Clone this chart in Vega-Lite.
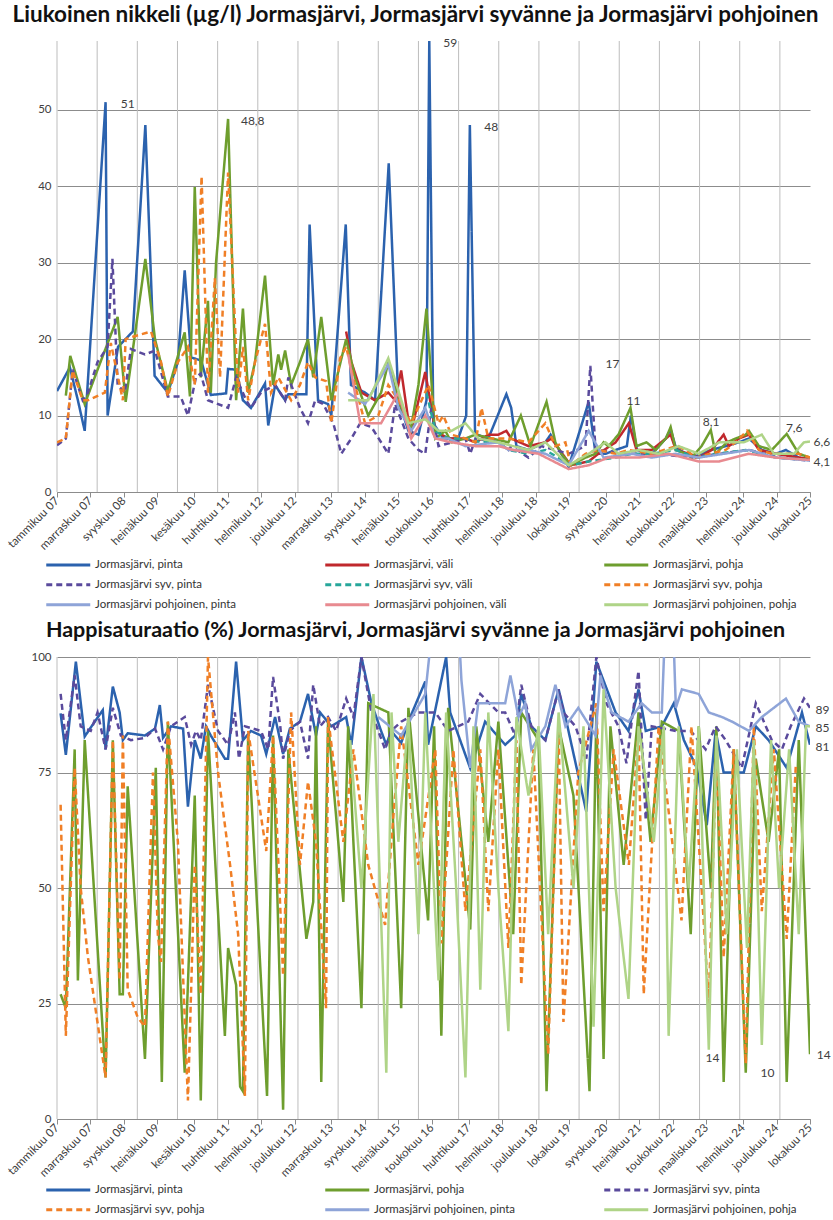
{
"$schema": "https://vega.github.io/schema/vega-lite/v6.json",
"background": "white",
"autosize": {"type": "pad"},
"padding": {"left": 5, "top": 4, "right": 0, "bottom": 4},
"config": {
  "font": "Lato",
  "view": {"stroke": null},
  "title": {"font": "Lato", "fontSize": 22.5, "fontWeight": "bold", "color": "#111111"},
  "axis": {"labelFont": "Lato", "labelFontSize": 11.5, "labelColor": "#404040"},
  "legend": {"labelFont": "Lato", "labelFontSize": 11.5, "labelColor": "#333333"}
},
"datasets": {
  "names": [
    {"s": "a", "n": "Jormasjärvi, pinta"},
    {"s": "b", "n": "Jormasjärvi, väli"},
    {"s": "c", "n": "Jormasjärvi, pohja"},
    {"s": "d", "n": "Jormasjärvi syv, pinta"},
    {"s": "e", "n": "Jormasjärvi syv, väli"},
    {"s": "f", "n": "Jormasjärvi syv, pohja"},
    {"s": "g", "n": "Jormasjärvi pohjoinen, pinta"},
    {"s": "h", "n": "Jormasjärvi pohjoinen, väli"},
    {"s": "i", "n": "Jormasjärvi pohjoinen, pohja"}
  ],
  "years": [{"x":2007},{"x":2008},{"x":2009},{"x":2010},{"x":2011},{"x":2012},{"x":2013},{"x":2014},{"x":2015},{"x":2016},{"x":2017},{"x":2018},{"x":2019},{"x":2020},{"x":2021},{"x":2022},{"x":2023},{"x":2024},{"x":2025}],
  "ni": [
{"s":"a","x":2007.00,"v":13.2},{"s":"a","x":2007.32,"v":16.3},{"s":"a","x":2007.52,"v":12},{"s":"a","x":2007.69,"v":8},{"s":"a","x":2008.21,"v":51},{"s":"a","x":2008.26,"v":10},{"s":"a","x":2008.52,"v":19},{"s":"a","x":2008.89,"v":21},{"s":"a","x":2009.20,"v":48},{"s":"a","x":2009.43,"v":15.2},{"s":"a","x":2009.76,"v":13},{"s":"a","x":2010.01,"v":17},{"s":"a","x":2010.18,"v":29},{"s":"a","x":2010.34,"v":17.6},{"s":"a","x":2010.59,"v":17.2},{"s":"a","x":2010.83,"v":12.7},{"s":"a","x":2011.21,"v":12.9},{"s":"a","x":2011.26,"v":16.1},{"s":"a","x":2011.46,"v":16},{"s":"a","x":2011.63,"v":12},{"s":"a","x":2011.83,"v":11},{"s":"a","x":2012.18,"v":14.2},{"s":"a","x":2012.26,"v":8.7},{"s":"a","x":2012.43,"v":14},{"s":"a","x":2012.68,"v":12},{"s":"a","x":2012.76,"v":12.8},{"s":"a","x":2013.21,"v":12.8},{"s":"a","x":2013.29,"v":35},{"s":"a","x":2013.50,"v":12},{"s":"a","x":2013.75,"v":11.5},{"s":"a","x":2013.83,"v":10},{"s":"a","x":2014.19,"v":35},{"s":"a","x":2014.32,"v":14},{"s":"a","x":2014.67,"v":13},{"s":"a","x":2014.92,"v":12},{"s":"a","x":2015.26,"v":43},{"s":"a","x":2015.50,"v":12},{"s":"a","x":2015.75,"v":8},{"s":"a","x":2016.00,"v":7.5},{"s":"a","x":2016.20,"v":12},{"s":"a","x":2016.27,"v":59},{"s":"a","x":2016.37,"v":9},{"s":"a","x":2016.62,"v":7},{"s":"a","x":2016.99,"v":7},{"s":"a","x":2017.19,"v":10},{"s":"a","x":2017.28,"v":48},{"s":"a","x":2017.41,"v":7.6},{"s":"a","x":2017.74,"v":7},{"s":"a","x":2018.19,"v":12.8},{"s":"a","x":2018.31,"v":11},{"s":"a","x":2018.44,"v":6},{"s":"a","x":2018.74,"v":5.5},{"s":"a","x":2019.16,"v":6.5},{"s":"a","x":2019.29,"v":7.5},{"s":"a","x":2019.74,"v":3.3},{"s":"a","x":2020.24,"v":11.8},{"s":"a","x":2020.41,"v":5},{"s":"a","x":2020.66,"v":5},{"s":"a","x":2020.91,"v":5.5},{"s":"a","x":2021.19,"v":6},{"s":"a","x":2021.29,"v":10},{"s":"a","x":2021.44,"v":5.5},{"s":"a","x":2021.81,"v":5},{"s":"a","x":2022.16,"v":7},{"s":"a","x":2022.28,"v":8.2},{"s":"a","x":2022.41,"v":5.8},{"s":"a","x":2022.66,"v":5},{"s":"a","x":2022.81,"v":4.5},{"s":"a","x":2023.28,"v":5.5},{"s":"a","x":2023.65,"v":6},{"s":"a","x":2023.98,"v":6.5},{"s":"a","x":2024.23,"v":7},{"s":"a","x":2024.55,"v":5.5},{"s":"a","x":2024.90,"v":5},{"s":"a","x":2025.15,"v":5.5},{"s":"a","x":2025.47,"v":4.5},{"s":"a","x":2025.75,"v":4.3},
{"s":"b","x":2014.20,"v":21},{"s":"b","x":2014.33,"v":17},{"s":"b","x":2014.58,"v":13},{"s":"b","x":2014.92,"v":12},{"s":"b","x":2015.25,"v":13},{"s":"b","x":2015.42,"v":12},{"s":"b","x":2015.57,"v":15.9},{"s":"b","x":2015.80,"v":7.5},{"s":"b","x":2016.17,"v":15.7},{"s":"b","x":2016.42,"v":8},{"s":"b","x":2016.74,"v":7},{"s":"b","x":2017.17,"v":7},{"s":"b","x":2017.42,"v":6.5},{"s":"b","x":2017.74,"v":7.5},{"s":"b","x":2017.99,"v":7.5},{"s":"b","x":2018.19,"v":8},{"s":"b","x":2018.31,"v":7},{"s":"b","x":2018.74,"v":6},{"s":"b","x":2019.16,"v":6.5},{"s":"b","x":2019.31,"v":7},{"s":"b","x":2019.79,"v":3.5},{"s":"b","x":2020.24,"v":4},{"s":"b","x":2020.48,"v":5},{"s":"b","x":2020.91,"v":6.5},{"s":"b","x":2021.24,"v":9},{"s":"b","x":2021.43,"v":5.5},{"s":"b","x":2021.81,"v":5.5},{"s":"b","x":2022.16,"v":7},{"s":"b","x":2022.28,"v":7.5},{"s":"b","x":2022.41,"v":5.5},{"s":"b","x":2022.73,"v":5},{"s":"b","x":2022.98,"v":4.5},{"s":"b","x":2023.30,"v":5.5},{"s":"b","x":2023.60,"v":7.5},{"s":"b","x":2023.73,"v":6},{"s":"b","x":2023.98,"v":7},{"s":"b","x":2024.23,"v":7.5},{"s":"b","x":2024.48,"v":5.5},{"s":"b","x":2024.90,"v":5},{"s":"b","x":2025.47,"v":4.5},{"s":"b","x":2025.75,"v":4.3},
{"s":"c","x":2007.22,"v":12.6},{"s":"c","x":2007.33,"v":17.8},{"s":"c","x":2007.69,"v":11.5},{"s":"c","x":2008.01,"v":16},{"s":"c","x":2008.51,"v":22.9},{"s":"c","x":2008.71,"v":11.8},{"s":"c","x":2009.20,"v":30.5},{"s":"c","x":2009.44,"v":20},{"s":"c","x":2009.76,"v":13.2},{"s":"c","x":2010.18,"v":20.9},{"s":"c","x":2010.31,"v":12.5},{"s":"c","x":2010.43,"v":39.9},{"s":"c","x":2010.58,"v":15},{"s":"c","x":2010.76,"v":25},{"s":"c","x":2010.83,"v":13},{"s":"c","x":2010.96,"v":30},{"s":"c","x":2011.26,"v":48.8},{"s":"c","x":2011.46,"v":12},{"s":"c","x":2011.63,"v":24},{"s":"c","x":2011.76,"v":13},{"s":"c","x":2011.93,"v":17},{"s":"c","x":2012.18,"v":28.3},{"s":"c","x":2012.38,"v":14},{"s":"c","x":2012.51,"v":18},{"s":"c","x":2012.58,"v":16},{"s":"c","x":2012.68,"v":18.5},{"s":"c","x":2012.83,"v":14},{"s":"c","x":2013.05,"v":17},{"s":"c","x":2013.25,"v":20},{"s":"c","x":2013.38,"v":15},{"s":"c","x":2013.58,"v":22.9},{"s":"c","x":2013.83,"v":12},{"s":"c","x":2014.20,"v":20},{"s":"c","x":2014.42,"v":15},{"s":"c","x":2014.55,"v":13},{"s":"c","x":2014.75,"v":10},{"s":"c","x":2015.07,"v":13},{"s":"c","x":2015.25,"v":17},{"s":"c","x":2015.50,"v":12},{"s":"c","x":2015.80,"v":8},{"s":"c","x":2016.00,"v":14},{"s":"c","x":2016.20,"v":24},{"s":"c","x":2016.42,"v":7},{"s":"c","x":2016.67,"v":8},{"s":"c","x":2016.82,"v":6.5},{"s":"c","x":2017.17,"v":7},{"s":"c","x":2017.42,"v":7.5},{"s":"c","x":2017.82,"v":7},{"s":"c","x":2018.24,"v":6.5},{"s":"c","x":2018.55,"v":10},{"s":"c","x":2018.79,"v":6},{"s":"c","x":2019.19,"v":11.8},{"s":"c","x":2019.41,"v":6.5},{"s":"c","x":2019.56,"v":5},{"s":"c","x":2019.79,"v":3.5},{"s":"c","x":2020.16,"v":4.5},{"s":"c","x":2020.41,"v":5},{"s":"c","x":2020.61,"v":6.5},{"s":"c","x":2020.73,"v":6},{"s":"c","x":2020.98,"v":7.5},{"s":"c","x":2021.28,"v":11},{"s":"c","x":2021.43,"v":6},{"s":"c","x":2021.68,"v":6.5},{"s":"c","x":2021.91,"v":5.5},{"s":"c","x":2022.16,"v":7},{"s":"c","x":2022.28,"v":8.5},{"s":"c","x":2022.41,"v":5.5},{"s":"c","x":2022.66,"v":5},{"s":"c","x":2022.80,"v":4.5},{"s":"c","x":2023.05,"v":6},{"s":"c","x":2023.28,"v":8.1},{"s":"c","x":2023.40,"v":5},{"s":"c","x":2023.68,"v":6.5},{"s":"c","x":2023.90,"v":7},{"s":"c","x":2024.15,"v":7.5},{"s":"c","x":2024.23,"v":8},{"s":"c","x":2024.48,"v":6},{"s":"c","x":2024.80,"v":5.5},{"s":"c","x":2025.17,"v":7.6},{"s":"c","x":2025.47,"v":5},{"s":"c","x":2025.75,"v":4.5},
{"s":"d","x":2007.00,"v":6.1},{"s":"d","x":2007.22,"v":7},{"s":"d","x":2007.39,"v":16},{"s":"d","x":2007.64,"v":12},{"s":"d","x":2007.77,"v":13},{"s":"d","x":2008.01,"v":17},{"s":"d","x":2008.26,"v":19},{"s":"d","x":2008.38,"v":30.5},{"s":"d","x":2008.51,"v":14},{"s":"d","x":2008.69,"v":13},{"s":"d","x":2008.84,"v":18.7},{"s":"d","x":2009.19,"v":18},{"s":"d","x":2009.44,"v":18.5},{"s":"d","x":2009.76,"v":12.5},{"s":"d","x":2010.08,"v":12.5},{"s":"d","x":2010.26,"v":10},{"s":"d","x":2010.46,"v":15},{"s":"d","x":2010.58,"v":15.5},{"s":"d","x":2010.76,"v":12},{"s":"d","x":2011.26,"v":11},{"s":"d","x":2011.46,"v":15},{"s":"d","x":2011.71,"v":12},{"s":"d","x":2011.83,"v":11},{"s":"d","x":2012.08,"v":13},{"s":"d","x":2012.43,"v":14},{"s":"d","x":2012.68,"v":12},{"s":"d","x":2012.76,"v":15},{"s":"d","x":2013.05,"v":11},{"s":"d","x":2013.25,"v":9},{"s":"d","x":2013.43,"v":12},{"s":"d","x":2013.63,"v":11.5},{"s":"d","x":2013.88,"v":9},{"s":"d","x":2014.08,"v":5},{"s":"d","x":2014.20,"v":6},{"s":"d","x":2014.33,"v":7},{"s":"d","x":2014.55,"v":9},{"s":"d","x":2014.83,"v":8.5},{"s":"d","x":2015.25,"v":5},{"s":"d","x":2015.42,"v":11.5},{"s":"d","x":2015.75,"v":7},{"s":"d","x":2016.00,"v":5.5},{"s":"d","x":2016.17,"v":5},{"s":"d","x":2016.32,"v":11},{"s":"d","x":2016.50,"v":6},{"s":"d","x":2017.17,"v":7},{"s":"d","x":2017.29,"v":5},{"s":"d","x":2017.42,"v":7},{"s":"d","x":2017.99,"v":6.5},{"s":"d","x":2018.24,"v":5.5},{"s":"d","x":2018.31,"v":6},{"s":"d","x":2018.74,"v":4.5},{"s":"d","x":2019.06,"v":6},{"s":"d","x":2019.74,"v":5},{"s":"d","x":2020.16,"v":6},{"s":"d","x":2020.28,"v":16.5},{"s":"d","x":2020.41,"v":5.5},{"s":"d","x":2021.31,"v":5},{"s":"d","x":2021.98,"v":5},{"s":"d","x":2022.73,"v":4.5},{"s":"d","x":2023.49,"v":5},{"s":"d","x":2024.23,"v":5.5},{"s":"d","x":2024.98,"v":4.5},{"s":"d","x":2025.75,"v":4.1},
{"s":"e","x":2016.20,"v":13},{"s":"e","x":2016.42,"v":8},{"s":"e","x":2016.74,"v":7},{"s":"e","x":2017.17,"v":7},{"s":"e","x":2017.57,"v":6.5},{"s":"e","x":2017.99,"v":6.5},{"s":"e","x":2018.24,"v":5.5},{"s":"e","x":2018.74,"v":5},{"s":"e","x":2019.16,"v":5.5},{"s":"e","x":2019.79,"v":3.5},{"s":"e","x":2020.24,"v":4},{"s":"e","x":2020.91,"v":4.5},{"s":"e","x":2021.31,"v":5},{"s":"e","x":2021.81,"v":5},{"s":"e","x":2022.41,"v":5.5},{"s":"e","x":2022.91,"v":4.5},{"s":"e","x":2023.40,"v":5},{"s":"e","x":2024.15,"v":5.5},{"s":"e","x":2024.90,"v":4.5},{"s":"e","x":2025.75,"v":4.2},
{"s":"f","x":2007.00,"v":6.5},{"s":"f","x":2007.22,"v":7},{"s":"f","x":2007.39,"v":15.9},{"s":"f","x":2007.64,"v":12},{"s":"f","x":2007.77,"v":12},{"s":"f","x":2008.19,"v":13},{"s":"f","x":2008.34,"v":19.5},{"s":"f","x":2008.64,"v":12},{"s":"f","x":2008.71,"v":20},{"s":"f","x":2009.01,"v":20.5},{"s":"f","x":2009.34,"v":21},{"s":"f","x":2009.59,"v":17},{"s":"f","x":2009.76,"v":12.5},{"s":"f","x":2010.01,"v":17},{"s":"f","x":2010.26,"v":19},{"s":"f","x":2010.43,"v":14},{"s":"f","x":2010.60,"v":41.3},{"s":"f","x":2010.76,"v":13},{"s":"f","x":2010.93,"v":28},{"s":"f","x":2011.06,"v":15},{"s":"f","x":2011.26,"v":41.8},{"s":"f","x":2011.51,"v":13},{"s":"f","x":2011.63,"v":19},{"s":"f","x":2011.76,"v":12},{"s":"f","x":2011.93,"v":17},{"s":"f","x":2012.18,"v":22},{"s":"f","x":2012.33,"v":13},{"s":"f","x":2012.51,"v":15},{"s":"f","x":2012.83,"v":12},{"s":"f","x":2013.05,"v":14},{"s":"f","x":2013.25,"v":17},{"s":"f","x":2013.43,"v":15},{"s":"f","x":2013.70,"v":14.5},{"s":"f","x":2013.83,"v":9},{"s":"f","x":2014.05,"v":17.5},{"s":"f","x":2014.20,"v":19},{"s":"f","x":2014.42,"v":14},{"s":"f","x":2014.67,"v":9},{"s":"f","x":2015.00,"v":10},{"s":"f","x":2015.25,"v":14},{"s":"f","x":2015.50,"v":12},{"s":"f","x":2015.82,"v":9},{"s":"f","x":2016.25,"v":14},{"s":"f","x":2016.50,"v":9},{"s":"f","x":2016.62,"v":10},{"s":"f","x":2016.82,"v":7.5},{"s":"f","x":2017.17,"v":7},{"s":"f","x":2017.42,"v":6.5},{"s":"f","x":2017.57,"v":11},{"s":"f","x":2017.74,"v":7},{"s":"f","x":2018.24,"v":7},{"s":"f","x":2018.74,"v":6.5},{"s":"f","x":2019.16,"v":9},{"s":"f","x":2019.41,"v":6},{"s":"f","x":2019.66,"v":6.5},{"s":"f","x":2019.79,"v":3.5},{"s":"f","x":2020.16,"v":5},{"s":"f","x":2020.48,"v":5.5},{"s":"f","x":2020.91,"v":5},{"s":"f","x":2021.24,"v":5.5},{"s":"f","x":2021.81,"v":5},{"s":"f","x":2022.41,"v":6},{"s":"f","x":2022.66,"v":5.5},{"s":"f","x":2022.91,"v":4.5},{"s":"f","x":2023.28,"v":5},{"s":"f","x":2023.65,"v":5.5},{"s":"f","x":2023.90,"v":6.5},{"s":"f","x":2024.18,"v":8},{"s":"f","x":2024.48,"v":5.5},{"s":"f","x":2024.80,"v":5},{"s":"f","x":2025.47,"v":5},{"s":"f","x":2025.75,"v":4.5},
{"s":"g","x":2014.25,"v":13},{"s":"g","x":2014.67,"v":11.5},{"s":"g","x":2015.25,"v":16.7},{"s":"g","x":2015.50,"v":11},{"s":"g","x":2015.82,"v":8},{"s":"g","x":2016.17,"v":11},{"s":"g","x":2016.42,"v":7},{"s":"g","x":2016.74,"v":7},{"s":"g","x":2017.17,"v":6},{"s":"g","x":2017.99,"v":6.5},{"s":"g","x":2018.24,"v":5.5},{"s":"g","x":2018.74,"v":5.5},{"s":"g","x":2019.16,"v":5},{"s":"g","x":2019.74,"v":3.5},{"s":"g","x":2020.24,"v":8},{"s":"g","x":2020.61,"v":4.5},{"s":"g","x":2021.31,"v":5},{"s":"g","x":2021.81,"v":4.5},{"s":"g","x":2022.41,"v":5},{"s":"g","x":2022.98,"v":4.5},{"s":"g","x":2024.23,"v":5.5},{"s":"g","x":2024.90,"v":4.5},{"s":"g","x":2025.75,"v":4.1},
{"s":"h","x":2014.25,"v":18},{"s":"h","x":2014.55,"v":9},{"s":"h","x":2015.07,"v":9},{"s":"h","x":2015.50,"v":13},{"s":"h","x":2015.82,"v":7},{"s":"h","x":2016.17,"v":10},{"s":"h","x":2016.42,"v":7},{"s":"h","x":2016.82,"v":6.5},{"s":"h","x":2017.42,"v":6},{"s":"h","x":2017.99,"v":6},{"s":"h","x":2018.36,"v":5.5},{"s":"h","x":2018.99,"v":5},{"s":"h","x":2019.74,"v":3},{"s":"h","x":2020.24,"v":3.5},{"s":"h","x":2020.73,"v":4.5},{"s":"h","x":2021.48,"v":4.5},{"s":"h","x":2022.23,"v":5},{"s":"h","x":2022.98,"v":4},{"s":"h","x":2023.49,"v":4},{"s":"h","x":2024.23,"v":5},{"s":"h","x":2024.90,"v":4.5},{"s":"h","x":2025.75,"v":4.2},
{"s":"i","x":2014.25,"v":12},{"s":"i","x":2014.75,"v":12},{"s":"i","x":2015.25,"v":17.5},{"s":"i","x":2015.75,"v":9},{"s":"i","x":2016.17,"v":9.5},{"s":"i","x":2016.50,"v":8},{"s":"i","x":2016.82,"v":8},{"s":"i","x":2017.17,"v":9},{"s":"i","x":2017.49,"v":7},{"s":"i","x":2017.99,"v":6.5},{"s":"i","x":2018.36,"v":6},{"s":"i","x":2018.74,"v":5.5},{"s":"i","x":2019.16,"v":6.5},{"s":"i","x":2019.74,"v":3.5},{"s":"i","x":2020.24,"v":5},{"s":"i","x":2020.66,"v":6.5},{"s":"i","x":2020.98,"v":5},{"s":"i","x":2021.48,"v":5.5},{"s":"i","x":2021.98,"v":5},{"s":"i","x":2022.48,"v":6},{"s":"i","x":2022.98,"v":5},{"s":"i","x":2023.49,"v":6.5},{"s":"i","x":2024.10,"v":6.5},{"s":"i","x":2024.55,"v":7.5},{"s":"i","x":2024.85,"v":5},{"s":"i","x":2025.35,"v":5},{"s":"i","x":2025.60,"v":6.5},{"s":"i","x":2025.75,"v":6.6}
  ],
  "o2": [
{"s":"a","x":2007.09,"v":87.8},{"s":"a","x":2007.22,"v":78.8},{"s":"a","x":2007.47,"v":99},{"s":"a","x":2007.69,"v":82.8},{"s":"a","x":2007.94,"v":86},{"s":"a","x":2008.14,"v":88.5},{"s":"a","x":2008.21,"v":80},{"s":"a","x":2008.39,"v":93.6},{"s":"a","x":2008.56,"v":88},{"s":"a","x":2008.64,"v":82},{"s":"a","x":2008.76,"v":83.5},{"s":"a","x":2009.19,"v":83},{"s":"a","x":2009.44,"v":84.5},{"s":"a","x":2009.56,"v":89.6},{"s":"a","x":2009.64,"v":82.5},{"s":"a","x":2009.84,"v":85},{"s":"a","x":2010.14,"v":84.5},{"s":"a","x":2010.26,"v":67.6},{"s":"a","x":2010.43,"v":82},{"s":"a","x":2010.58,"v":78},{"s":"a","x":2010.71,"v":85},{"s":"a","x":2010.83,"v":83},{"s":"a","x":2011.18,"v":78},{"s":"a","x":2011.26,"v":78},{"s":"a","x":2011.46,"v":99},{"s":"a","x":2011.63,"v":82},{"s":"a","x":2011.83,"v":84},{"s":"a","x":2012.08,"v":83},{"s":"a","x":2012.21,"v":79},{"s":"a","x":2012.43,"v":87},{"s":"a","x":2012.63,"v":79},{"s":"a","x":2012.80,"v":84.5},{"s":"a","x":2013.05,"v":86},{"s":"a","x":2013.25,"v":92},{"s":"a","x":2013.45,"v":83},{"s":"a","x":2013.55,"v":88},{"s":"a","x":2013.83,"v":85},{"s":"a","x":2014.20,"v":87},{"s":"a","x":2014.33,"v":81},{"s":"a","x":2014.58,"v":100},{"s":"a","x":2014.83,"v":90},{"s":"a","x":2015.07,"v":84},{"s":"a","x":2015.20,"v":81},{"s":"a","x":2015.32,"v":84},{"s":"a","x":2015.57,"v":81.4},{"s":"a","x":2015.82,"v":87.5},{"s":"a","x":2016.17,"v":94.7},{"s":"a","x":2016.24,"v":81},{"s":"a","x":2016.69,"v":100},{"s":"a","x":2016.79,"v":88},{"s":"a","x":2017.29,"v":75.9},{"s":"a","x":2017.66,"v":86},{"s":"a","x":2018.16,"v":81},{"s":"a","x":2018.41,"v":83},{"s":"a","x":2018.56,"v":92},{"s":"a","x":2018.81,"v":85},{"s":"a","x":2019.16,"v":82},{"s":"a","x":2019.49,"v":93},{"s":"a","x":2019.66,"v":87},{"s":"a","x":2020.18,"v":66.5},{"s":"a","x":2020.43,"v":99},{"s":"a","x":2020.91,"v":88},{"s":"a","x":2021.23,"v":84},{"s":"a","x":2021.48,"v":93},{"s":"a","x":2021.66,"v":84},{"s":"a","x":2022.06,"v":85},{"s":"a","x":2022.36,"v":90},{"s":"a","x":2022.61,"v":82},{"s":"a","x":2022.93,"v":76},{"s":"a","x":2023.18,"v":63.6},{"s":"a","x":2023.40,"v":84},{"s":"a","x":2023.60,"v":75},{"s":"a","x":2024.10,"v":75},{"s":"a","x":2024.40,"v":85},{"s":"a","x":2024.72,"v":82},{"s":"a","x":2025.17,"v":76},{"s":"a","x":2025.55,"v":88},{"s":"a","x":2025.75,"v":81},
{"s":"c","x":2007.09,"v":27},{"s":"c","x":2007.22,"v":24},{"s":"c","x":2007.44,"v":80},{"s":"c","x":2007.52,"v":30},{"s":"c","x":2007.69,"v":82},{"s":"c","x":2008.21,"v":9},{"s":"c","x":2008.39,"v":82},{"s":"c","x":2008.56,"v":27},{"s":"c","x":2008.64,"v":27},{"s":"c","x":2008.76,"v":72},{"s":"c","x":2009.19,"v":13},{"s":"c","x":2009.46,"v":76},{"s":"c","x":2009.61,"v":8},{"s":"c","x":2009.76,"v":86},{"s":"c","x":2010.18,"v":10},{"s":"c","x":2010.43,"v":70},{"s":"c","x":2010.58,"v":4},{"s":"c","x":2010.76,"v":84},{"s":"c","x":2011.18,"v":18},{"s":"c","x":2011.26,"v":37},{"s":"c","x":2011.46,"v":29},{"s":"c","x":2011.56,"v":7},{"s":"c","x":2011.63,"v":6},{"s":"c","x":2011.76,"v":83},{"s":"c","x":2012.23,"v":5},{"s":"c","x":2012.38,"v":83},{"s":"c","x":2012.63,"v":2},{"s":"c","x":2012.76,"v":80},{"s":"c","x":2013.21,"v":39},{"s":"c","x":2013.38,"v":47},{"s":"c","x":2013.45,"v":85},{"s":"c","x":2013.58,"v":8},{"s":"c","x":2013.75,"v":86},{"s":"c","x":2014.13,"v":47},{"s":"c","x":2014.25,"v":85},{"s":"c","x":2014.38,"v":60},{"s":"c","x":2014.58,"v":24},{"s":"c","x":2014.75,"v":90},{"s":"c","x":2015.25,"v":88},{"s":"c","x":2015.57,"v":24},{"s":"c","x":2015.75,"v":89},{"s":"c","x":2016.24,"v":43},{"s":"c","x":2016.39,"v":85},{"s":"c","x":2016.57,"v":18},{"s":"c","x":2016.74,"v":89},{"s":"c","x":2017.29,"v":41},{"s":"c","x":2017.44,"v":85},{"s":"c","x":2017.74,"v":60},{"s":"c","x":2017.99,"v":86},{"s":"c","x":2018.36,"v":40},{"s":"c","x":2018.56,"v":88},{"s":"c","x":2018.99,"v":82},{"s":"c","x":2019.19,"v":6},{"s":"c","x":2019.49,"v":85},{"s":"c","x":2019.86,"v":70},{"s":"c","x":2020.26,"v":6},{"s":"c","x":2020.43,"v":88},{"s":"c","x":2020.61,"v":13},{"s":"c","x":2020.78,"v":85},{"s":"c","x":2021.11,"v":55},{"s":"c","x":2021.48,"v":88},{"s":"c","x":2021.78,"v":60},{"s":"c","x":2022.06,"v":86},{"s":"c","x":2022.48,"v":84},{"s":"c","x":2022.78,"v":40},{"s":"c","x":2022.98,"v":85},{"s":"c","x":2023.28,"v":50},{"s":"c","x":2023.42,"v":85},{"s":"c","x":2023.60,"v":8},{"s":"c","x":2023.85,"v":80},{"s":"c","x":2024.15,"v":10},{"s":"c","x":2024.40,"v":78},{"s":"c","x":2024.72,"v":60},{"s":"c","x":2024.98,"v":80},{"s":"c","x":2025.17,"v":8},{"s":"c","x":2025.47,"v":82},{"s":"c","x":2025.75,"v":14},
{"s":"d","x":2007.09,"v":92},{"s":"d","x":2007.22,"v":82},{"s":"d","x":2007.44,"v":96},{"s":"d","x":2007.59,"v":85},{"s":"d","x":2007.84,"v":84},{"s":"d","x":2008.01,"v":88},{"s":"d","x":2008.21,"v":80},{"s":"d","x":2008.39,"v":89},{"s":"d","x":2008.59,"v":83},{"s":"d","x":2008.84,"v":82},{"s":"d","x":2009.19,"v":82.5},{"s":"d","x":2009.44,"v":84.5},{"s":"d","x":2009.64,"v":80},{"s":"d","x":2009.84,"v":85},{"s":"d","x":2010.18,"v":87},{"s":"d","x":2010.34,"v":81},{"s":"d","x":2010.46,"v":84},{"s":"d","x":2010.58,"v":82},{"s":"d","x":2010.76,"v":94},{"s":"d","x":2011.01,"v":84},{"s":"d","x":2011.26,"v":81},{"s":"d","x":2011.43,"v":88},{"s":"d","x":2011.53,"v":78},{"s":"d","x":2011.68,"v":85},{"s":"d","x":2012.08,"v":84},{"s":"d","x":2012.26,"v":80},{"s":"d","x":2012.38,"v":95.7},{"s":"d","x":2012.56,"v":85},{"s":"d","x":2012.63,"v":78},{"s":"d","x":2012.80,"v":84},{"s":"d","x":2013.05,"v":86},{"s":"d","x":2013.25,"v":78},{"s":"d","x":2013.38,"v":94},{"s":"d","x":2013.55,"v":85},{"s":"d","x":2013.75,"v":87},{"s":"d","x":2013.95,"v":84},{"s":"d","x":2014.20,"v":91},{"s":"d","x":2014.38,"v":87},{"s":"d","x":2014.58,"v":100},{"s":"d","x":2014.83,"v":88},{"s":"d","x":2015.17,"v":80},{"s":"d","x":2015.32,"v":84},{"s":"d","x":2015.57,"v":86},{"s":"d","x":2016.00,"v":88},{"s":"d","x":2016.42,"v":88},{"s":"d","x":2016.74,"v":84},{"s":"d","x":2017.24,"v":86},{"s":"d","x":2017.54,"v":92},{"s":"d","x":2017.99,"v":88},{"s":"d","x":2018.16,"v":88},{"s":"d","x":2018.41,"v":83},{"s":"d","x":2018.56,"v":94},{"s":"d","x":2018.81,"v":85},{"s":"d","x":2019.16,"v":82},{"s":"d","x":2019.49,"v":93},{"s":"d","x":2019.61,"v":88},{"s":"d","x":2019.91,"v":85},{"s":"d","x":2020.18,"v":78},{"s":"d","x":2020.43,"v":100},{"s":"d","x":2020.68,"v":90},{"s":"d","x":2020.98,"v":85},{"s":"d","x":2021.18,"v":77},{"s":"d","x":2021.31,"v":86},{"s":"d","x":2021.48,"v":97},{"s":"d","x":2021.66,"v":64.7},{"s":"d","x":2021.81,"v":85},{"s":"d","x":2022.41,"v":84},{"s":"d","x":2022.78,"v":84},{"s":"d","x":2023.15,"v":80},{"s":"d","x":2023.40,"v":85},{"s":"d","x":2023.65,"v":82},{"s":"d","x":2024.05,"v":76},{"s":"d","x":2024.40,"v":90},{"s":"d","x":2024.80,"v":82},{"s":"d","x":2025.05,"v":80},{"s":"d","x":2025.27,"v":85},{"s":"d","x":2025.60,"v":91},{"s":"d","x":2025.75,"v":89},
{"s":"f","x":2007.09,"v":68},{"s":"f","x":2007.22,"v":18},{"s":"f","x":2007.44,"v":76},{"s":"f","x":2007.59,"v":50},{"s":"f","x":2007.77,"v":35},{"s":"f","x":2008.21,"v":9},{"s":"f","x":2008.39,"v":82},{"s":"f","x":2008.56,"v":30},{"s":"f","x":2008.64,"v":83},{"s":"f","x":2008.76,"v":28},{"s":"f","x":2009.01,"v":22},{"s":"f","x":2009.19,"v":20},{"s":"f","x":2009.39,"v":75},{"s":"f","x":2009.51,"v":40},{"s":"f","x":2009.59,"v":34},{"s":"f","x":2009.76,"v":86},{"s":"f","x":2010.01,"v":60},{"s":"f","x":2010.26,"v":4},{"s":"f","x":2010.43,"v":55},{"s":"f","x":2010.58,"v":27},{"s":"f","x":2010.76,"v":100},{"s":"f","x":2011.01,"v":75},{"s":"f","x":2011.31,"v":55},{"s":"f","x":2011.51,"v":40},{"s":"f","x":2011.68,"v":5},{"s":"f","x":2011.76,"v":84},{"s":"f","x":2012.21,"v":58},{"s":"f","x":2012.38,"v":83},{"s":"f","x":2012.63,"v":31},{"s":"f","x":2012.83,"v":88},{"s":"f","x":2013.05,"v":55},{"s":"f","x":2013.25,"v":73},{"s":"f","x":2013.45,"v":60},{"s":"f","x":2013.70,"v":24},{"s":"f","x":2013.75,"v":87},{"s":"f","x":2014.13,"v":60},{"s":"f","x":2014.38,"v":80},{"s":"f","x":2014.75,"v":55},{"s":"f","x":2015.17,"v":42},{"s":"f","x":2015.37,"v":65},{"s":"f","x":2015.57,"v":85},{"s":"f","x":2016.00,"v":55},{"s":"f","x":2016.42,"v":80},{"s":"f","x":2016.57,"v":38},{"s":"f","x":2016.87,"v":80},{"s":"f","x":2017.17,"v":45},{"s":"f","x":2017.54,"v":80},{"s":"f","x":2017.74,"v":45},{"s":"f","x":2017.99,"v":80},{"s":"f","x":2018.24,"v":37},{"s":"f","x":2018.44,"v":82},{"s":"f","x":2018.56,"v":29},{"s":"f","x":2018.86,"v":80},{"s":"f","x":2019.23,"v":14},{"s":"f","x":2019.49,"v":85},{"s":"f","x":2019.61,"v":21},{"s":"f","x":2019.98,"v":75},{"s":"f","x":2020.43,"v":90},{"s":"f","x":2020.61,"v":45},{"s":"f","x":2020.86,"v":80},{"s":"f","x":2021.24,"v":55},{"s":"f","x":2021.48,"v":84},{"s":"f","x":2021.61,"v":27},{"s":"f","x":2021.98,"v":85},{"s":"f","x":2022.55,"v":43},{"s":"f","x":2022.80,"v":85},{"s":"f","x":2023.23,"v":25},{"s":"f","x":2023.42,"v":80},{"s":"f","x":2023.60,"v":35},{"s":"f","x":2023.85,"v":80},{"s":"f","x":2024.15,"v":12},{"s":"f","x":2024.35,"v":85},{"s":"f","x":2024.55,"v":45},{"s":"f","x":2024.85,"v":80},{"s":"f","x":2025.17,"v":39},{"s":"f","x":2025.40,"v":77},
{"s":"g","x":2015.00,"v":87},{"s":"g","x":2015.57,"v":83},{"s":"g","x":2016.17,"v":92},{"s":"g","x":2016.45,"v":115},{"s":"g","x":2016.95,"v":115},{"s":"g","x":2017.07,"v":95},{"s":"g","x":2017.29,"v":76},{"s":"g","x":2017.49,"v":90},{"s":"g","x":2018.16,"v":90},{"s":"g","x":2018.29,"v":96},{"s":"g","x":2018.49,"v":87},{"s":"g","x":2018.66,"v":90},{"s":"g","x":2018.81,"v":80},{"s":"g","x":2019.16,"v":85},{"s":"g","x":2019.41,"v":94},{"s":"g","x":2019.66,"v":85},{"s":"g","x":2019.98,"v":89},{"s":"g","x":2020.41,"v":83},{"s":"g","x":2020.53,"v":96},{"s":"g","x":2020.81,"v":88},{"s":"g","x":2021.23,"v":86},{"s":"g","x":2021.56,"v":90},{"s":"g","x":2021.81,"v":88},{"s":"g","x":2022.06,"v":88},{"s":"g","x":2022.18,"v":115},{"s":"g","x":2022.31,"v":115},{"s":"g","x":2022.41,"v":89},{"s":"g","x":2022.56,"v":93},{"s":"g","x":2022.98,"v":92},{"s":"g","x":2023.23,"v":88},{"s":"g","x":2023.56,"v":87},{"s":"g","x":2023.81,"v":86},{"s":"g","x":2024.23,"v":84},{"s":"g","x":2024.55,"v":87},{"s":"g","x":2025.15,"v":91},{"s":"g","x":2025.47,"v":86},{"s":"g","x":2025.75,"v":85},
{"s":"i","x":2014.30,"v":82},{"s":"i","x":2014.58,"v":50},{"s":"i","x":2014.88,"v":92},{"s":"i","x":2015.20,"v":10},{"s":"i","x":2015.33,"v":88},{"s":"i","x":2015.50,"v":60},{"s":"i","x":2015.75,"v":87},{"s":"i","x":2016.00,"v":40},{"s":"i","x":2016.17,"v":88},{"s":"i","x":2016.50,"v":30},{"s":"i","x":2016.69,"v":88},{"s":"i","x":2016.94,"v":50},{"s":"i","x":2017.17,"v":9},{"s":"i","x":2017.37,"v":85},{"s":"i","x":2017.54,"v":28},{"s":"i","x":2017.74,"v":88},{"s":"i","x":2017.99,"v":50},{"s":"i","x":2018.24,"v":19},{"s":"i","x":2018.44,"v":87},{"s":"i","x":2018.74,"v":70},{"s":"i","x":2018.99,"v":85},{"s":"i","x":2019.23,"v":40},{"s":"i","x":2019.49,"v":88},{"s":"i","x":2019.86,"v":50},{"s":"i","x":2020.11,"v":85},{"s":"i","x":2020.36,"v":20},{"s":"i","x":2020.61,"v":93},{"s":"i","x":2020.91,"v":50},{"s":"i","x":2021.23,"v":26},{"s":"i","x":2021.48,"v":85},{"s":"i","x":2021.86,"v":60},{"s":"i","x":2022.11,"v":85},{"s":"i","x":2022.23,"v":18},{"s":"i","x":2022.48,"v":85},{"s":"i","x":2022.73,"v":50},{"s":"i","x":2022.98,"v":85},{"s":"i","x":2023.23,"v":15},{"s":"i","x":2023.42,"v":83},{"s":"i","x":2023.68,"v":40},{"s":"i","x":2023.93,"v":80},{"s":"i","x":2024.18,"v":37},{"s":"i","x":2024.35,"v":82},{"s":"i","x":2024.55,"v":16},{"s":"i","x":2024.78,"v":82},{"s":"i","x":2024.98,"v":50},{"s":"i","x":2025.23,"v":80},{"s":"i","x":2025.47,"v":40},{"s":"i","x":2025.65,"v":85},{"s":"i","x":2025.75,"v":85}
  ],
  "nilab": [
    {"x":2008.59,"v":50.7,"t":"51"},{"x":2011.58,"v":48.5,"t":"48,8"},{"x":2016.62,"v":58.8,"t":"59"},{"x":2017.64,"v":47.8,"t":"48"},{"x":2020.66,"v":16.7,"t":"17"},{"x":2021.18,"v":11.9,"t":"11"},{"x":2023.08,"v":9.2,"t":"8,1"},{"x":2025.15,"v":8.4,"t":"7,6"},{"x":2025.84,"v":6.5,"t":"6,6"},{"x":2025.84,"v":3.9,"t":"4,1"}
  ],
  "o2lab": [
    {"x":2025.89,"v":88.5,"t":"89"},{"x":2025.89,"v":84.6,"t":"85"},{"x":2025.89,"v":80.5,"t":"81"},{"x":2023.15,"v":13.2,"t":"14"},{"x":2024.52,"v":10,"t":"10"},{"x":2025.92,"v":13.9,"t":"14"}
  ]
},
"spacing": 8,
"resolve": {"scale": {"color": "independent", "strokeDash": "independent", "y": "independent"}, "legend": {"color": "independent", "strokeDash": "independent"}},
"vconcat": [
{
  "width": 753, "height": 451,
  "title": {"text": "Liukoinen nikkeli (µg/l) Jormasjärvi, Jormasjärvi syvänne ja Jormasjärvi pohjoinen", "anchor": "middle", "dx": -18, "offset": 10},
  "encoding": {
    "x": {"field": "x", "type": "quantitative", "title": null,
      "scale": {"domain": [2007, 2025.75], "nice": false, "zero": false},
      "axis": {"values": [2007, 2007.8333, 2008.6667, 2009.5, 2010.4167, 2011.25, 2012.0833, 2012.9167, 2013.8333, 2014.6667, 2015.5, 2016.3333, 2017.25, 2018.0833, 2018.9167, 2019.75, 2020.6667, 2021.5, 2022.3333, 2023.1667, 2024.0833, 2024.9167, 2025.75],
        "labelExpr": "['tammikuu','helmikuu','maaliskuu','huhtikuu','toukokuu','kesäkuu','heinäkuu','elokuu','syyskuu','lokakuu','marraskuu','joulukuu'][round((datum.value - floor(datum.value)) * 12)] + ' ' + slice('' + floor(datum.value), 2)",
        "labelAngle": -45, "labelAlign": "right", "labelBaseline": "middle", "labelPadding": 2, "labelOverlap": false, "labelFlush": false, "labelBound": false,
        "grid": false, "domainColor": "#8c8c8c", "tickColor": "#8c8c8c", "tickSize": 5}}
  },
  "layer": [
    {"data": {"name": "years"}, "mark": {"type": "rule", "color": "#bdbdbd", "strokeWidth": 1}, "encoding": {}},
    {"data": {"name": "ni"},
     "transform": [{"lookup": "s", "from": {"data": {"name": "names"}, "key": "s", "fields": ["n"]}}],
     "mark": {"type": "line", "strokeWidth": 2.5, "clip": true},
     "encoding": {
       "y": {"field": "v", "type": "quantitative", "title": null, "scale": {"domain": [0, 59], "nice": false},
             "axis": {"values": [0, 10, 20, 30, 40, 50], "grid": true, "gridColor": "#8c8c8c", "domain": false, "ticks": false, "labelPadding": 6}},
       "color": {"field": "n", "type": "nominal",
         "scale": {"domain": ["Jormasjärvi, pinta", "Jormasjärvi, väli", "Jormasjärvi, pohja", "Jormasjärvi syv, pinta", "Jormasjärvi syv, väli", "Jormasjärvi syv, pohja", "Jormasjärvi pohjoinen, pinta", "Jormasjärvi pohjoinen, väli", "Jormasjärvi pohjoinen, pohja"],
                   "range": ["#2B62AE", "#C0282D", "#6E9E2E", "#5A4A9C", "#26A69A", "#F07F26", "#8EA4D8", "#E88A90", "#AFD487"]},
         "legend": {"orient": "none", "legendX": -11, "legendY": 518, "columns": 3, "direction": "horizontal", "title": null, "symbolType": "M-5.5,0H5.5", "symbolSize": 64, "symbolStrokeWidth": 3, "symbolOffset": 16.5, "labelOffset": 21, "columnPadding": 80, "rowPadding": 7, "gridAlign": "all", "labelLimit": 300}},
       "strokeDash": {"field": "n", "type": "nominal",
         "scale": {"domain": ["Jormasjärvi, pinta", "Jormasjärvi, väli", "Jormasjärvi, pohja", "Jormasjärvi syv, pinta", "Jormasjärvi syv, väli", "Jormasjärvi syv, pohja", "Jormasjärvi pohjoinen, pinta", "Jormasjärvi pohjoinen, väli", "Jormasjärvi pohjoinen, pohja"],
                   "range": [[1, 0], [1, 0], [1, 0], [6, 4], [6, 4], [6, 4], [1, 0], [1, 0], [1, 0]]},
         "legend": {"orient": "none", "legendX": -11, "legendY": 518, "columns": 3, "direction": "horizontal", "title": null, "symbolType": "M-5.5,0H5.5", "symbolSize": 64, "symbolStrokeWidth": 3, "symbolOffset": 16.5, "labelOffset": 21, "columnPadding": 80, "rowPadding": 7, "gridAlign": "all", "labelLimit": 300}}
     }},
    {"data": {"name": "nilab"},
     "mark": {"type": "text", "align": "left", "baseline": "middle", "fontSize": 12, "color": "#404040"},
     "encoding": {"y": {"field": "v", "type": "quantitative", "title": null, "axis": {"values": [0, 10, 20, 30, 40, 50], "grid": true, "gridColor": "#8c8c8c", "domain": false, "ticks": false, "labelPadding": 6}}, "text": {"field": "t"}}}
  ]
},
{
  "width": 753, "height": 462,
  "title": {"text": "Happisaturaatio (%) Jormasjärvi, Jormasjärvi syvänne ja Jormasjärvi pohjoinen", "anchor": "middle", "dx": -18, "offset": 10, "fontSize": 21.5},
  "encoding": {
    "x": {"field": "x", "type": "quantitative", "title": null,
      "scale": {"domain": [2007, 2025.75], "nice": false, "zero": false},
      "axis": {"values": [2007, 2007.8333, 2008.6667, 2009.5, 2010.4167, 2011.25, 2012.0833, 2012.9167, 2013.8333, 2014.6667, 2015.5, 2016.3333, 2017.25, 2018.0833, 2018.9167, 2019.75, 2020.6667, 2021.5, 2022.3333, 2023.1667, 2024.0833, 2024.9167, 2025.75],
        "labelExpr": "['tammikuu','helmikuu','maaliskuu','huhtikuu','toukokuu','kesäkuu','heinäkuu','elokuu','syyskuu','lokakuu','marraskuu','joulukuu'][round((datum.value - floor(datum.value)) * 12)] + ' ' + slice('' + floor(datum.value), 2)",
        "labelAngle": -45, "labelAlign": "right", "labelBaseline": "middle", "labelPadding": 2, "labelOverlap": false, "labelFlush": false, "labelBound": false,
        "grid": false, "domainColor": "#8c8c8c", "tickColor": "#8c8c8c", "tickSize": 5}}
  },
  "layer": [
    {"data": {"name": "years"}, "mark": {"type": "rule", "color": "#bdbdbd", "strokeWidth": 1}, "encoding": {}},
    {"data": {"name": "o2"},
     "transform": [{"lookup": "s", "from": {"data": {"name": "names"}, "key": "s", "fields": ["n"]}}],
     "mark": {"type": "line", "strokeWidth": 2.5, "clip": true},
     "encoding": {
       "y": {"field": "v", "type": "quantitative", "title": null, "scale": {"domain": [0, 100], "nice": false},
             "axis": {"values": [0, 25, 50, 75, 100], "grid": true, "gridColor": "#8c8c8c", "domain": false, "ticks": false, "labelPadding": 6}},
       "color": {"field": "n", "type": "nominal",
         "scale": {"domain": ["Jormasjärvi, pinta", "Jormasjärvi, pohja", "Jormasjärvi syv, pinta", "Jormasjärvi syv, pohja", "Jormasjärvi pohjoinen, pinta", "Jormasjärvi pohjoinen, pohja"],
                   "range": ["#2B62AE", "#6E9E2E", "#5A4A9C", "#F07F26", "#8EA4D8", "#AFD487"]},
         "legend": {"orient": "none", "legendX": -11, "legendY": 527, "columns": 3, "direction": "horizontal", "title": null, "symbolType": "M-5.5,0H5.5", "symbolSize": 64, "symbolStrokeWidth": 3, "symbolOffset": 16.5, "labelOffset": 21, "columnPadding": 80, "rowPadding": 7, "gridAlign": "all", "labelLimit": 300}},
       "strokeDash": {"field": "n", "type": "nominal",
         "scale": {"domain": ["Jormasjärvi, pinta", "Jormasjärvi, pohja", "Jormasjärvi syv, pinta", "Jormasjärvi syv, pohja", "Jormasjärvi pohjoinen, pinta", "Jormasjärvi pohjoinen, pohja"],
                   "range": [[1, 0], [1, 0], [6, 4], [6, 4], [1, 0], [1, 0]]},
         "legend": {"orient": "none", "legendX": -11, "legendY": 527, "columns": 3, "direction": "horizontal", "title": null, "symbolType": "M-5.5,0H5.5", "symbolSize": 64, "symbolStrokeWidth": 3, "symbolOffset": 16.5, "labelOffset": 21, "columnPadding": 80, "rowPadding": 7, "gridAlign": "all", "labelLimit": 300}}
     }},
    {"data": {"name": "o2lab"},
     "mark": {"type": "text", "align": "left", "baseline": "middle", "fontSize": 12, "color": "#404040"},
     "encoding": {"y": {"field": "v", "type": "quantitative", "title": null, "axis": {"values": [0, 25, 50, 75, 100], "grid": true, "gridColor": "#8c8c8c", "domain": false, "ticks": false, "labelPadding": 6}}, "text": {"field": "t"}}}
  ]
}
]
}
